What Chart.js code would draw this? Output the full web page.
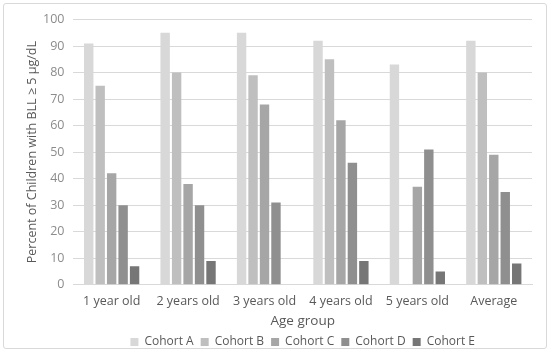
<!DOCTYPE html>
<html>
<head>
<meta charset="utf-8">
<script src="https://cdn.jsdelivr.net/npm/chart.js@4/dist/chart.umd.min.js"></script>
<style>
  html, body { margin: 0; padding: 0; background: #fff; overflow: hidden; }
  #frame {
    position: absolute; left: 3px; top: 3px;
    width: 544px; height: 346px;
    border: 1px solid #d9d9d9; border-radius: 3px;
    box-sizing: border-box;
  }
  #wrap {
    position: absolute; left: 3px; top: 3px;
    width: 544px; height: 355px;
  }
</style>
</head>
<body>
<div id="frame"></div>
<div id="wrap"><canvas id="chart"></canvas></div>
<script>
    // categorias y series
    const ageGroups = ["1 year old", "2 years old", "3 years old", "4 years old", "5 years old", "Average"];
    const cohortA = [91, 95, 95, 92, 83, 92];
    const cohortB = [75, 80, 79, 85, null, 80];
    const cohortC = [42, 38, 68, 62, 37, 49];
    const cohortD = [30, 30, 31, 46, 51, 35];
    const cohortE = [7, 9, null, 9, 5, 8];
    const yTicks = [0, 10, 20, 30, 40, 50, 60, 70, 80, 90, 100];

    const fontFam = "'Open Sans', 'Noto Sans', sans-serif";

    function makeSet(label, data, color) {
        return {
            label: label,
            data: data,
            backgroundColor: color,
            borderWidth: 0,
            barPercentage: 0.82,
            categoryPercentage: 0.75,
        };
    }

    const ctx = document.getElementById("chart").getContext("2d");
    new Chart(ctx, {
        type: "bar",
        data: {
            labels: ageGroups,
            datasets: [
                makeSet("Cohort A", cohortA, "#d8d8d8"),
                makeSet("Cohort B", cohortB, "#bfbfbf"),
                makeSet("Cohort C", cohortC, "#a6a6a6"),
                makeSet("Cohort D", cohortD, "#8f8f8f"),
                makeSet("Cohort E", cohortE, "#767676"),
            ],
        },
        options: {
            responsive: true,
            maintainAspectRatio: false,
            animation: false,
            layout: { padding: { left: 22, right: 15, top: 8, bottom: 0 } },
            plugins: {
                legend: {
                    position: "bottom",
                    fullSize: false,
                    labels: {
                        boxWidth: 8,
                        boxHeight: 8,
                        padding: 7,
                        color: "#595959",
                        font: { family: fontFam, size: 12 },
                    },
                },
                tooltip: { enabled: false },
            },
            scales: {
                x: {
                    grid: { display: false, drawTicks: false },
                    border: { color: "#d9d9d9" },
                    ticks: { color: "#595959", font: { family: fontFam, size: 12.5 }, padding: 9 },
                    title: {
                        display: true,
                        text: "Age group",
                        color: "#595959",
                        font: { family: fontFam, size: 13.5 },
                        padding: { top: -5, bottom: 0 },
                    },
                },
                y: {
                    min: 0,
                    max: 100,
                    afterBuildTicks: (axis) => { axis.ticks = yTicks.map((v) => ({ value: v })); },
                    grid: { color: "#d9d9d9", drawTicks: false },
                    border: { display: false },
                    ticks: { color: "#8c8c8c", font: { family: fontFam, size: 12.5 }, padding: 9 },
                    title: {
                        display: true,
                        text: "Percent of Children with BLL ≥ 5 μg/dL",
                        color: "#595959",
                        font: { family: fontFam, size: 12.5 },
                        padding: { top: 0, bottom: -6 },
                    },
                },
            },
        },
    });
</script>
</body>
</html>
